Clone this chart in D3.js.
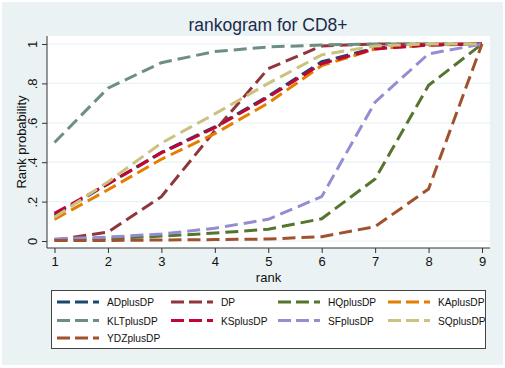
<!DOCTYPE html>
<html>
<head>
<meta charset="utf-8">
<script src="https://cdn.jsdelivr.net/npm/d3@7"></script>
<style>
  body { margin: 0; background: #fff; }
  text { font-family: "Liberation Sans", Arial, sans-serif; fill: #111; }
</style>
</head>
<body>
<svg class="chart" width="505" height="368"></svg>
<script>
const ranks = [1, 2, 3, 4, 5, 6, 7, 8, 9];
const yTicks = [0, 0.2, 0.4, 0.6, 0.8, 1];
const yTickLabels = ['0', '.2', '.4', '.6', '.8', '1'];

const seriesNames = ['ADplusDP', 'DP', 'HQplusDP', 'KAplusDP', 'KLTplusDP', 'KSplusDP', 'SFplusDP', 'SQplusDP', 'YDZplusDP'];
const seriesColors = ['#1a476f', '#90353b', '#55752f', '#e37e00', '#6e8e84', '#c10534', '#938dd2', '#cac27e', '#a0522d'];

const adValues  = [0.13, 0.29, 0.45, 0.58, 0.735, 0.91, 0.98, 0.995, 1];
const dpValues  = [0.005, 0.045, 0.225, 0.56, 0.875, 0.99, 1, 1, 1];
const hqValues  = [0.005, 0.012, 0.025, 0.04, 0.06, 0.113, 0.315, 0.79, 1];
const kaValues  = [0.11, 0.26, 0.415, 0.545, 0.70, 0.89, 0.975, 0.995, 1];
const kltValues = [0.50, 0.776, 0.905, 0.962, 0.985, 0.995, 1, 1, 1];
const ksValues  = [0.14, 0.29, 0.447, 0.575, 0.73, 0.90, 0.975, 0.995, 1];
const sfValues  = [0.01, 0.02, 0.035, 0.065, 0.11, 0.225, 0.705, 0.95, 1];
const sqValues  = [0.12, 0.30, 0.497, 0.645, 0.80, 0.945, 0.99, 1, 1];
const ydzValues = [0.002, 0.003, 0.005, 0.007, 0.01, 0.022, 0.073, 0.264, 1];

const seriesValues = [adValues, dpValues, hqValues, kaValues, kltValues, ksValues, sfValues, sqValues, ydzValues];

const svg = d3.select('.chart');
const width = +svg.attr('width');
const height = +svg.attr('height');

const bg = '#eaf2f3';
svg.append('rect')
    .attr('x', 0).attr('y', 0)
    .attr('width', width).attr('height', height)
    .attr('fill', '#fff');
svg.append('rect')
    .attr('x', 2).attr('y', 2)
    .attr('width', width - 4).attr('height', height - 5)
    .attr('fill', bg);

const plot = { left: 47, top: 36, right: 490, bottom: 248 };

svg.append('rect')
    .attr('x', plot.left).attr('y', plot.top)
    .attr('width', plot.right - plot.left).attr('height', plot.bottom - plot.top)
    .attr('fill', '#fff');

const x = d3.scaleLinear().domain([1, 9]).range([54.5, 482]);
const y = d3.scaleLinear().domain([0, 1]).range([241, 44]);

// grid
svg.append('g')
    .selectAll('line')
    .data(yTicks)
    .enter()
    .append('line')
    .attr('x1', plot.left).attr('x2', plot.right)
    .attr('y1', d => y(d)).attr('y2', d => y(d))
    .attr('stroke', bg)
    .attr('stroke-width', 1.2);

// y axis
const yAxis = d3.axisLeft(y)
    .tickValues(yTicks)
    .tickFormat((d, i) => yTickLabels[i])
    .tickSize(5)
    .tickPadding(3);

const yAxisG = svg.append('g')
    .attr('transform', `translate(${plot.left},0)`)
    .call(yAxis);
yAxisG.select('.domain')
    .attr('d', `M0,${plot.top}V${plot.bottom}`)
    .attr('stroke', '#333');
yAxisG.selectAll('.tick line').attr('stroke', '#333');
yAxisG.selectAll('.tick text')
    .attr('x', null).attr('dy', null)
    .attr('text-anchor', 'middle')
    .attr('transform', 'translate(-10,0) rotate(-90)')
    .attr('font-size', 13)
    .style('font-family', '"Liberation Sans", Arial, sans-serif')
    .attr('fill', '#111');

// x axis
const xAxis = d3.axisBottom(x)
    .tickValues(ranks)
    .tickFormat(d3.format('d'))
    .tickSize(5)
    .tickPadding(4);

const xAxisG = svg.append('g')
    .attr('transform', `translate(0,${plot.bottom})`)
    .call(xAxis);
xAxisG.select('.domain')
    .attr('d', `M${plot.left},0H${plot.right}`)
    .attr('stroke', '#333');
xAxisG.selectAll('.tick line').attr('stroke', '#333');
xAxisG.selectAll('.tick text')
    .attr('font-size', 13)
    .style('font-family', '"Liberation Sans", Arial, sans-serif')
    .attr('fill', '#111');

// axis titles
svg.append('text')
    .attr('x', 268.5).attr('y', 282)
    .attr('text-anchor', 'middle')
    .attr('font-size', 13)
    .text('rank');

svg.append('text')
    .attr('transform', 'translate(26,142) rotate(-90)')
    .attr('text-anchor', 'middle')
    .attr('font-size', 13)
    .text('Rank probability');

svg.append('text')
    .attr('x', 268).attr('y', 31)
    .attr('text-anchor', 'middle')
    .attr('font-size', 17.5)
    .style('fill', '#1a2b4c')
    .text('rankogram for CD8+');

// lines
const line = d3.line()
    .x((d, i) => x(ranks[i]))
    .y(d => y(d));

svg.append('g')
    .selectAll('path')
    .data(seriesValues)
    .enter()
    .append('path')
    .attr('d', line)
    .attr('fill', 'none')
    .attr('stroke', (d, i) => seriesColors[i])
    .attr('stroke-width', 3)
    .attr('stroke-dasharray', '13,6');

// legend
const legendG = svg.append('g');
legendG.append('rect')
    .attr('x', 51.5).attr('y', 290.5)
    .attr('width', 434).attr('height', 58)
    .attr('fill', '#fff')
    .attr('stroke', '#444')
    .attr('stroke-width', 1);

const colX = [57, 171, 278, 388];
const rowY = [302, 320.5, 338];

const items = legendG.selectAll('g.item')
    .data(seriesNames)
    .enter()
    .append('g')
    .attr('class', 'item')
    .attr('transform', (d, i) => `translate(${colX[i % 4]},${rowY[Math.floor(i / 4)]})`);

items.append('line')
    .attr('x1', 0).attr('x2', 42)
    .attr('y1', 0).attr('y2', 0)
    .attr('stroke', (d, i) => seriesColors[i])
    .attr('stroke-width', 3)
    .attr('stroke-dasharray', '13,5');

items.append('text')
    .attr('x', 50).attr('y', 4)
    .attr('font-size', 10.2)
    .text(d => d);
</script>
</body>
</html>
